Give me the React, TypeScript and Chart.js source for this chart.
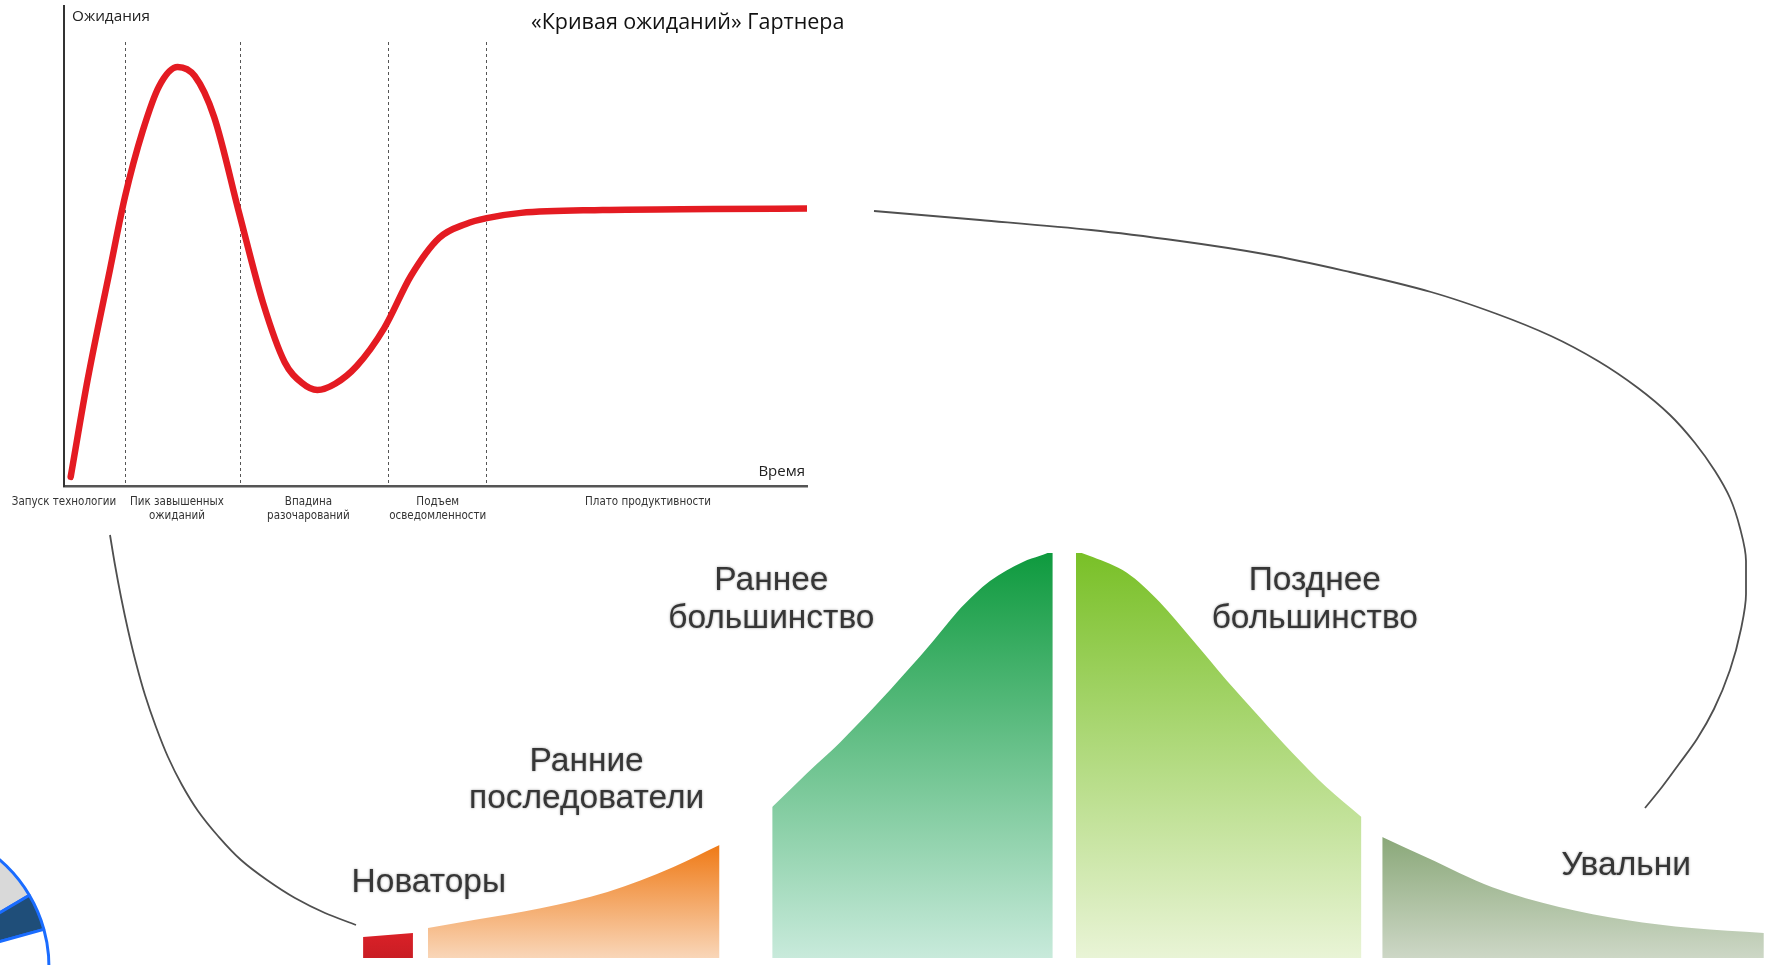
import React, { useEffect, useRef } from "react";
import { Chart, registerables } from "chart.js";
Chart.register(...registerables);

// ---------- Hype cycle (Gartner) ----------
const HYPE_TIME = [0.9, 3.2, 6.2, 8.2, 10.6, 12.8, 15.3, 17.6, 20.2, 23.6, 26.8, 29.7, 32.0, 34.1, 36.5, 39.4, 43.1, 46.7, 50.5, 54.1, 56.9, 61.5, 72.5, 87.3, 100];
const HYPE_EXPECT = [1.9, 22.3, 45.2, 60.2, 74.0, 83.3, 87.3, 85.4, 76.9, 56.7, 38.1, 25.8, 21.5, 20.0, 21.3, 25.0, 32.9, 43.8, 51.7, 54.6, 55.8, 56.9, 57.5, 57.7, 57.8];
const PHASE_BOUNDS = [8.2, 23.7, 43.6, 56.8];
const PHASE_LABEL_POS = [0, 15.2, 32.9, 50.3, 78.6];
const PHASE_LABELS = [
  ["Запуск технологии"],
  ["Пик завышенных", "ожиданий"],
  ["Впадина", "разочарований"],
  ["Подъем", "осведомленности"],
  ["Плато продуктивности"],
];
const HYPE_TITLE = "«Кривая ожиданий» Гартнера";
const HYPE_Y_LABEL = "Ожидания";
const HYPE_X_LABEL = "Время";

// ---------- Diffusion of innovations ----------
const INNOVATORS_X = [-2.422, -2.25];
const INNOVATORS_Y = [5.2, 6.2];
const EARLY_ADOPTERS_X = [-2.198, -2.04, -1.809, -1.578, -1.35, -1.191];
const EARLY_ADOPTERS_Y = [7.4, 9.4, 12.3, 16.3, 22.5, 27.9];
const EARLY_MAJORITY_X = [-1.009, -0.888, -0.774, -0.66, -0.543, -0.453, -0.371, -0.309, -0.257, -0.143, -0.084, -0.04];
const EARLY_MAJORITY_Y = [37.3, 45.7, 53.3, 61.7, 70.9, 78.3, 85.4, 89.9, 93.1, 97.8, 99.3, 100.5];
const LATE_MAJORITY_X = [0.04, 0.098, 0.216, 0.329, 0.443, 0.56, 0.674, 0.788, 0.905, 1.026];
const LATE_MAJORITY_Y = [100.5, 99.0, 95.1, 87.9, 78.5, 68.6, 59.5, 50.6, 42.2, 34.8];
const LAGGARDS_X = [1.098, 1.25, 1.478, 1.709, 1.94, 2.167, 2.416];
const LAGGARDS_Y = [29.9, 24.9, 17.5, 12.6, 9.4, 7.4, 6.2];
const GROUP_NAMES = ["Новаторы", "Ранние последователи", "Раннее большинство", "Позднее большинство", "Увальни"];
const GROUP_LABEL_LINES = [["Новаторы"], ["Ранние", "последователи"], ["Раннее", "большинство"], ["Позднее", "большинство"], ["Увальни"]];

// ---------- Pie fragment ----------
const PIE_VALUES = [16.5, 4.2, 79.3];

// ---------- Connector curves (page units) ----------
const CONNECTOR_LEFT_X = [110, 115, 121, 128, 136, 145, 156, 168, 182, 198, 218, 241, 267, 295, 325, 356];
const CONNECTOR_LEFT_Y = [535, 565, 597, 630, 663, 695, 727, 757, 785, 811, 836, 860, 880, 898, 913, 925];
const CONNECTOR_RIGHT_X = [874, 980, 1091, 1180, 1264, 1350, 1431, 1497, 1551, 1598, 1638, 1670, 1695, 1715, 1730, 1740, 1746, 1746, 1741, 1730, 1714, 1697, 1679, 1662, 1645];
const CONNECTOR_RIGHT_Y = [211, 220, 230, 241, 254, 272, 292, 314, 336, 361, 388, 415, 443, 471, 498, 528, 561, 594, 629, 670, 709, 739, 764, 787, 808];

const zip = (xs: number[], ys: number[]) => xs.map((x, i) => ({ x, y: ys[i] }));

// layout constants
const PAGE_W = 1765;
const PAGE_H = 965;
const H_W = 880;
const H_H = 540;
const B_LEFT = 300;
const B_TOP = 540;
const B_W = PAGE_W - B_LEFT;
const B_H = PAGE_H - B_TOP;
const P_SIZE = 320;

const GRADIENTS: string[][] = [
  ["#da2128", "#c91d24"],
  ["#ef7a16", "#f9d6b8"],
  ["#0e9a3e", "#c8eadb"],
  ["#79c027", "#e9f4d6"],
  ["#8aa879", "#cdd7c6"],
];

const LABEL_ANCHORS = [
  { x: -2.195, y: 18.5 },
  { x: -1.65, y: 48.5 },
  { x: -1.012, y: 93.1 },
  { x: 0.865, y: 93.1 },
  { x: 1.94, y: 22.7 },
];

export default function App() {
  const hypeRef = useRef<HTMLCanvasElement>(null);
  const bellRef = useRef<HTMLCanvasElement>(null);
  const pieRef = useRef<HTMLCanvasElement>(null);
  const connRef = useRef<HTMLCanvasElement>(null);

  useEffect(() => {
    const charts: Chart[] = [];

    // ---- Hype chart ----
    const hypeDecor = {
      id: "hypeDecor",
      beforeDatasetsDraw(chart: any) {
        const { ctx, chartArea: ca, scales } = chart;
        const x = scales.x, y = scales.y;
        ctx.save();
        ctx.strokeStyle = "#555";
        ctx.lineWidth = 1;
        ctx.setLineDash([3, 3]);
        PHASE_BOUNDS.forEach((b) => {
          const px = Math.round(x.getPixelForValue(b)) + 0.5;
          ctx.beginPath();
          ctx.moveTo(px, y.getPixelForValue(92.5));
          ctx.lineTo(px, ca.bottom);
          ctx.stroke();
        });
        ctx.restore();
      },
      afterDraw(chart: any) {
        const { ctx, chartArea: ca, scales } = chart;
        const x = scales.x;
        ctx.save();
        ctx.fillStyle = "#222";
        ctx.textBaseline = "middle";
        ctx.font = '15.3px "Open Sans", sans-serif';
        ctx.textAlign = "left";
        ctx.fillText(HYPE_Y_LABEL, ca.left + 8, ca.top + 11);
        ctx.textAlign = "right";
        ctx.font = '15px "Open Sans", sans-serif';
        ctx.fillText(HYPE_X_LABEL, ca.right - 2, ca.bottom - 14);
        ctx.font = '21.5px "Open Sans", sans-serif';
        ctx.fillStyle = "#111";
        ctx.textAlign = "left";
        ctx.fillText(HYPE_TITLE, 531, ca.top + 17);
        ctx.font = '11.5px "Liberation Sans Narrow", "DejaVu Sans Condensed", sans-serif';
        ctx.fillStyle = "#333";
        ctx.textAlign = "center";
        PHASE_LABELS.forEach((lines, i) => {
          const px = x.getPixelForValue(PHASE_LABEL_POS[i]);
          lines.forEach((ln, j) => ctx.fillText(ln, px, ca.bottom + 16 + j * 14));
        });
        ctx.restore();
      },
    };

    if (hypeRef.current) {
      charts.push(
        new Chart(hypeRef.current, {
          type: "line",
          data: {
            datasets: [
              {
                data: zip(HYPE_TIME, HYPE_EXPECT),
                borderColor: "#e41b22",
                borderWidth: 6.5,
                borderCapStyle: "round",
                pointRadius: 0,
                cubicInterpolationMode: "monotone",
                fill: false,
              } as any,
            ],
          },
          options: {
            animation: false,
            responsive: false,
            maintainAspectRatio: false,
            layout: { padding: { left: 64, right: H_W - 807, top: 6, bottom: H_H - 486 } },
            plugins: { legend: { display: false }, tooltip: { enabled: false } },
            scales: {
              x: {
                type: "linear",
                min: 0,
                max: 100,
                ticks: { display: false },
                grid: { display: false, drawTicks: false },
                border: { display: true, color: "#555", width: 2.5 },
              },
              y: {
                min: 0,
                max: 100,
                ticks: { display: false },
                grid: { display: false, drawTicks: false },
                border: { display: true, color: "#333", width: 2 },
              },
            },
          },
          plugins: [hypeDecor],
        })
      );
    }

    // ---- Bell chart ----
    const seriesX = [INNOVATORS_X, EARLY_ADOPTERS_X, EARLY_MAJORITY_X, LATE_MAJORITY_X, LAGGARDS_X];
    const seriesY = [INNOVATORS_Y, EARLY_ADOPTERS_Y, EARLY_MAJORITY_Y, LATE_MAJORITY_Y, LAGGARDS_Y];

    const bellLabels = {
      id: "bellLabels",
      afterDatasetsDraw(chart: any) {
        const { ctx, scales } = chart;
        ctx.save();
        ctx.font = '33.5px "Liberation Sans", Arial, sans-serif';
        ctx.fillStyle = "#363636";
        ctx.textAlign = "center";
        ctx.textBaseline = "middle";
        ctx.shadowColor = "rgba(0,0,0,0.4)";
        ctx.shadowBlur = 2.5;
        GROUP_LABEL_LINES.forEach((lines, i) => {
          const px = scales.x.getPixelForValue(LABEL_ANCHORS[i].x);
          const py = scales.y.getPixelForValue(LABEL_ANCHORS[i].y);
          lines.forEach((ln, j) => ctx.fillText(ln, px, py + j * 37.5));
        });
        ctx.restore();
      },
    };

    if (bellRef.current) {
      charts.push(
        new Chart(bellRef.current, {
          type: "line",
          data: {
            datasets: seriesX.map((xs, i) => ({
              label: GROUP_NAMES[i],
              data: zip(xs, seriesY[i]),
              borderWidth: 0,
              borderColor: "rgba(0,0,0,0)",
              pointRadius: 0,
              tension: 0,
              cubicInterpolationMode: i === 0 ? "default" : "monotone",
              fill: "origin",
              backgroundColor: (c: any) => {
                const chart = c.chart;
                const ca = chart.chartArea;
                if (!ca) return GRADIENTS[i][0];
                const top = chart.scales.y.getPixelForValue(Math.min(100, Math.max(...seriesY[i])));
                const g = chart.ctx.createLinearGradient(0, top, 0, ca.bottom);
                g.addColorStop(0, GRADIENTS[i][0]);
                g.addColorStop(1, GRADIENTS[i][1]);
                return g;
              },
            })) as any,
          },
          options: {
            animation: false,
            responsive: false,
            maintainAspectRatio: false,
            layout: { padding: { left: 0, right: 0, top: 13, bottom: 7 } },
            plugins: { legend: { display: false }, tooltip: { enabled: false } },
            scales: {
              x: { type: "linear", min: -2.64, max: 2.42, display: false },
              y: { min: 0, max: 100, display: false },
            },
          },
          plugins: [bellLabels],
        })
      );
    }

    // ---- Pie fragment ----
    if (pieRef.current) {
      charts.push(
        new Chart(pieRef.current, {
          type: "pie",
          data: {
            labels: ["A", "B", "C"],
            datasets: [
              {
                data: PIE_VALUES,
                backgroundColor: ["#d9d9d9", "#1f4e79", "#ffffff"],
                borderColor: "#1a6cff",
                borderWidth: 3,
              },
            ],
          },
          options: {
            animation: false,
            responsive: false,
            maintainAspectRatio: false,
            radius: 141,
            layout: { padding: 0 },
            plugins: { legend: { display: false }, tooltip: { enabled: false } },
          } as any,
        })
      );
    }

    // ---- Connectors ----
    if (connRef.current) {
      charts.push(
        new Chart(connRef.current, {
          type: "line",
          data: {
            datasets: [
              { data: zip(CONNECTOR_LEFT_X, CONNECTOR_LEFT_Y) },
              { data: zip(CONNECTOR_RIGHT_X, CONNECTOR_RIGHT_Y) },
            ].map((d) => ({
              ...d,
              indexAxis: "y",
              borderColor: "#4f4f4f",
              borderWidth: 1.8,
              pointRadius: 0,
              cubicInterpolationMode: "monotone",
              fill: false,
            })) as any,
          },
          options: {
            animation: false,
            responsive: false,
            maintainAspectRatio: false,
            layout: { padding: 0 },
            plugins: { legend: { display: false }, tooltip: { enabled: false } },
            scales: {
              x: { type: "linear", min: 0, max: PAGE_W, display: false },
              y: { type: "linear", min: 0, max: PAGE_H, reverse: true, display: false },
            },
          },
        })
      );
    }

    return () => charts.forEach((c) => c.destroy());
  }, []);

  const abs = (left: number, top: number, w: number, h: number): React.CSSProperties => ({
    position: "absolute",
    left,
    top,
    width: w,
    height: h,
  });

  return (
    <div
      style={{
        position: "fixed",
        left: 0,
        top: 0,
        width: PAGE_W,
        height: PAGE_H,
        overflow: "hidden",
        background: "#ffffff",
      }}
    >
      <canvas ref={pieRef} width={P_SIZE} height={P_SIZE} style={abs(-252, 807, P_SIZE, P_SIZE)} />
      <canvas ref={bellRef} width={B_W} height={B_H} style={abs(B_LEFT, B_TOP, B_W, B_H)} />
      <canvas ref={hypeRef} width={H_W} height={H_H} style={abs(0, 0, H_W, H_H)} />
      <canvas
        ref={connRef}
        width={PAGE_W}
        height={PAGE_H}
        style={{ ...abs(0, 0, PAGE_W, PAGE_H), pointerEvents: "none" }}
      />
    </div>
  );
}
